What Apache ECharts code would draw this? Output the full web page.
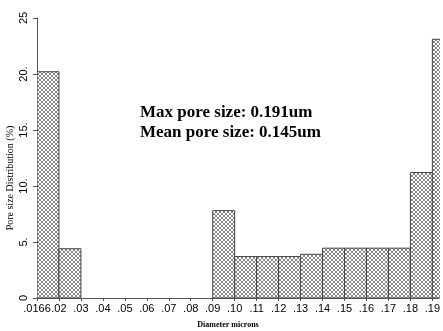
<!DOCTYPE html>
<html>
<head>
<meta charset="utf-8">
<script src="https://cdn.jsdelivr.net/npm/echarts@6/dist/echarts.min.js"></script>
<style>html,body{margin:0;padding:0;background:#fff;}#c{width:443px;height:331px;}</style>
</head>
<body>
<div id="c"></div>
<script>
var xLabels = ['.0166','.02','.03','.04','.05','.06','.07','.08','.09','.10','.11','.12','.13','.14','.15','.16','.17','.18','.19'];
var values = [20.2, 4.4, 0, 0, 0, 0, 0, 0, 7.8, 3.7, 3.7, 3.7, 3.9, 4.45, 4.45, 4.45, 4.45, 11.2, 23.1];
var yTicks = ['0','5.','10.','15.','20.','25'];
var annotations = ['Max pore size: 0.191um', 'Mean pore size: 0.145um'];

var pc = document.createElement('canvas');
pc.width = 4; pc.height = 4;
var ctx = pc.getContext('2d');
ctx.fillStyle = '#ffffff'; ctx.fillRect(0,0,4,4);
ctx.fillStyle = '#888888';
[[0,0],[1,1],[2,2],[3,3],[3,0],[2,1],[1,2],[0,3]].forEach(function(p){ctx.fillRect(p[0],p[1],1,1);});

var data = values.map(function(v,i){return [i, v];});
var chart = echarts.init(document.getElementById('c'), null, {renderer:'canvas'});
chart.setOption({
  animation:false,
  grid:{left:37, right:0, top:18, bottom:33},
  xAxis:{type:'value', min:0, max:18.31, interval:1,
    axisLine:{show:true, lineStyle:{color:'#555', width:1}},
    axisTick:{show:true, length:3, lineStyle:{color:'#555'}},
    splitLine:{show:false},
    axisLabel:{showMaxLabel:false, showMinLabel:true, hideOverlap:false, color:'#000', fontFamily:'Liberation Sans', fontSize:11, margin:5,
      formatter:function(v){var i=Math.round(v); return xLabels[i]!==undefined?xLabels[i]:'';}}
  },
  yAxis:{type:'value', min:0, max:25, interval:5,
    axisLine:{show:true, lineStyle:{color:'#555', width:1}},
    axisTick:{show:true, length:4, lineStyle:{color:'#555'}},
    splitLine:{show:false},
    axisLabel:{rotate:90, color:'#000', fontFamily:'Liberation Sans', fontSize:11, margin:8,
      formatter:function(v){return yTicks[Math.round(v/5)];}}
  },
  series:[{
    type:'custom', clip:true,
    data:data,
    renderItem:function(params, api){
      var i = api.value(0), v = api.value(1);
      if (!(v > 0)) return null;
      var p0 = api.coord([i, v]), p1 = api.coord([i+1, 0]);
      return {type:'rect', shape:{x:p0[0], y:p0[1], width:p1[0]-p0[0], height:p1[1]-p0[1]},
        style:{fill:{image:pc, repeat:'repeat'}, stroke:'#444', lineWidth:1}};
    }
  }],
  graphic:[
    {type:'text', left:140, top:104, style:{text:annotations[0], fontFamily:'Liberation Serif', fontWeight:'bold', fontSize:17, fill:'#000'}},
    {type:'text', left:140, top:124, style:{text:annotations[1], fontFamily:'Liberation Serif', fontWeight:'bold', fontSize:17, fill:'#000'}},
    {type:'text', x:10, y:178, rotation:Math.PI/2, style:{text:'Pore size Distribution (%)', fontFamily:'Liberation Serif', fontSize:10, fill:'#000', align:'center', verticalAlign:'middle'}},
    {type:'text', x:228, y:325, style:{text:'Diameter microns', fontFamily:'Liberation Serif', fontWeight:'bold', fontSize:8, fill:'#000', align:'center', verticalAlign:'middle'}}
  ]
});
</script>
</body>
</html>
